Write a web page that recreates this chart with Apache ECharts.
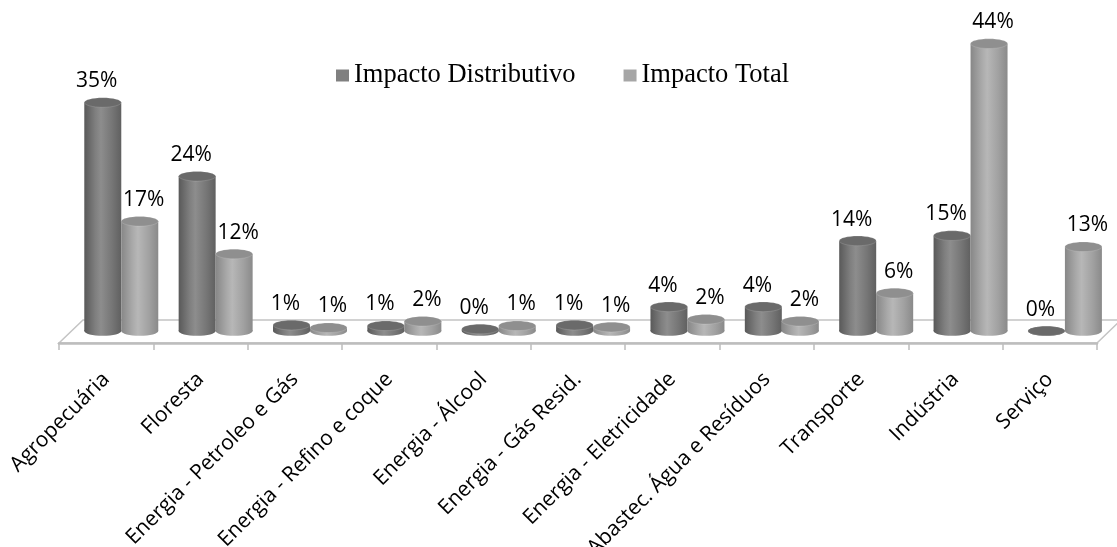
<!DOCTYPE html>
<html><head><meta charset="utf-8">
<script src="https://cdn.jsdelivr.net/npm/echarts@6/dist/echarts.min.js"></script>
<style>html,body{margin:0;padding:0;background:#fff}#c{width:1117px;height:547px}</style>
</head><body><div id="c"></div>
<script>
const categories = ['Agropecuária','Floresta','Energia - Petroleo e Gás','Energia - Refino e coque','Energia - Álcool','Energia - Gás Resid.','Energia - Eletricidade','Abastec. Água e Resíduos','Transporte','Indústria','Serviço'];
const seriesNames = ['Impacto Distributivo','Impacto Total'];
const impactoDistributivo = [35.0, 23.7, 0.9, 0.8, 0.3, 0.9, 3.7, 3.7, 13.8, 14.6, 0.0];
const impactoTotal = [16.8, 11.8, 0.5, 1.5, 0.8, 0.6, 1.8, 1.5, 5.8, 44.0, 12.9];

const palettes = [
  {legend:'#808080', top:'#6a6a6a', stops:['#595959','#7f7f7f','#8d8d8d','#767676','#606060'], labelDx:-6},
  {legend:'#a6a6a6', top:'#8f8f8f', stops:['#878787','#a9a9a9','#b7b7b7','#a1a1a1','#8a8a8a'], labelDx:4}
];
const DEPTH_X = 24, DEPTH_Y = -23;

function cylinder(sIdx){
  const p = palettes[sIdx];
  return function(params, api){
    const i = api.value(0), v = api.value(1);
    const band = api.size([1,0])[0];
    const base = api.coord([i,0]);
    const top = api.coord([i,v]);
    const w = band*0.392;
    const cx = base[0] + band*0.16 + (sIdx===0 ? -w/2 : w/2);
    const by = base[1] - 12, ty = top[1] - 12;
    const ry = w*0.13;
    const grad = () => new echarts.graphic.LinearGradient(0,0,1,0,[
      {offset:0,color:p.stops[0]},{offset:0.3,color:p.stops[1]},{offset:0.45,color:p.stops[2]},{offset:0.75,color:p.stops[3]},{offset:1,color:p.stops[4]}]);
    return {type:'group', children:[
      {type:'ellipse', shape:{cx:cx, cy:by, rx:w/2, ry:ry}, style:{fill:grad()}},
      {type:'rect', shape:{x:cx-w/2, y:ty, width:w, height:Math.max(0,by-ty)}, style:{fill:grad()}},
      {type:'ellipse', shape:{cx:cx, cy:ty, rx:w/2, ry:ry}, style:{fill:p.top, stroke:'rgba(255,255,255,0.25)', lineWidth:0.6}},
      {type:'text', style:{text:Math.round(v)+'%', x:cx+p.labelDx, y:ty-ry-6, align:'center', verticalAlign:'bottom', fontFamily:'Open Sans', fontSize:21, fill:'#000'}}
    ]};
  };
}

function floor(params, api){
  const cs = params.coordSys;
  const fy = api.coord([0,0])[1];
  const x0 = cs.x, x1 = cs.x + cs.width;
  return {type:'polygon', shape:{points:[[x0,fy],[x1,fy],[x1+DEPTH_X,fy+DEPTH_Y],[x0+DEPTH_X,fy+DEPTH_Y]]},
    style:{fill:'#ffffff', stroke:'#c4c4c4', lineWidth:1.5}};
}

const chart = echarts.init(document.getElementById('c'), null, {renderer:'canvas'});
chart.setOption({
  animation:false,
  backgroundColor:'#ffffff',
  legend:{
    data:seriesNames.map((n,k)=>({name:n, icon:'rect', itemStyle:{color:palettes[k].legend}})),
    left:331, top:57, itemWidth:13, itemHeight:12, itemGap:48,
    textStyle:{fontFamily:'Liberation Serif', fontSize:26.5, color:'#000'}
  },
  grid:{left:59, right:20, top:16.5, bottom:204, containLabel:false, outerBoundsMode:'none'},
  xAxis:{type:'category', data:categories, boundaryGap:true, z:5,
    axisLine:{show:true, lineStyle:{color:'#bdbdbd', width:2.5}},
    axisTick:{show:true, alignWithLabel:false, length:7, lineStyle:{color:'#bdbdbd', width:1.5}},
    axisLabel:{rotate:45, interval:0, margin:33, hideOverlap:false, fontFamily:'Open Sans', fontSize:21, color:'#000'}
  },
  yAxis:{type:'value', min:0, max:50, show:false, splitLine:{show:false}},
  series:[
    {type:'custom', name:'floor', data:[[0,0]], renderItem:floor, silent:true, z:1},
    {type:'custom', name:seriesNames[0], data:impactoDistributivo.map((v,i)=>[i,v]), renderItem:cylinder(0), itemStyle:{color:palettes[0].legend}, z:2},
    {type:'custom', name:seriesNames[1], data:impactoTotal.map((v,i)=>[i,v]), renderItem:cylinder(1), itemStyle:{color:palettes[1].legend}, z:3}
  ]
});
</script></body></html>
